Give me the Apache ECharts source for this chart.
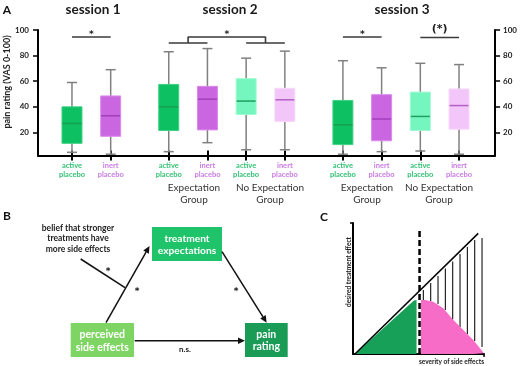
<!DOCTYPE html>
<html><head><meta charset="utf-8">
<script src="https://cdn.jsdelivr.net/npm/echarts@6/dist/echarts.min.js"></script>
<style>html,body{margin:0;padding:0;background:#fff}#c{width:520px;height:366px}</style>
</head><body><div id="c"></div>
<script>
// ---------- Panel A data ----------
const categories = ['active\nplacebo','','inert\nplacebo','','','active\nplacebo','','inert\nplacebo','','active\nplacebo','','inert\nplacebo','','','active\nplacebo','','inert\nplacebo','','active\nplacebo','','inert\nplacebo'];
const boxPositions = [0,2,5,7,9,11,14,16,18,20];
const boxTypes = [0,1,0,1,2,3,0,1,2,3];
// [min, q1, median, q3, max]
const s1Active = [4.5, 11.5, 27, 40, 59];
const s1Inert = [3, 17, 33, 48.5, 69];
const s2ExpActive = [5, 21.5, 40, 57.5, 83];
const s2ExpInert = [12, 22, 46, 56, 85.5];
const s2NoExpActive = [6.5, 34, 44.5, 62, 78];
const s2NoExpInert = [6.5, 28.5, 45.5, 54.5, 83.5];
const s3ExpActive = [3, 10.5, 26, 45, 76];
const s3ExpInert = [5, 13.5, 30.5, 49.5, 70.5];
const s3NoExpActive = [5.5, 21.5, 32.5, 51.5, 74];
const s3NoExpInert = [3, 22.5, 41, 54, 73];
const boxStats = [s1Active, s1Inert, s2ExpActive, s2ExpInert, s2NoExpActive, s2NoExpInert, s3ExpActive, s3ExpInert, s3NoExpActive, s3NoExpInert];
const yTicks = [20, 40, 60, 80, 100];
const sessionTitles = ['session 1', 'session 2', 'session 3'];
const groupLabels = ['Expectation\nGroup', 'No Expectation\nGroup', 'Expectation\nGroup', 'No Expectation\nGroup'];
// significance: [fromIndex, toIndex, level]
const sigBars = [[0, 2, 94.5], [5, 7, 89.8], [9, 11, 89.8], [14, 16, 94.5], [18, 20, 94.2]];
const sigBracketX = [6, 6, 10, 10];
const sigBracketY = [89.8, 94.5, 94.5, 89.8];
const sigMarkX = [1, 8, 15, 19];
const sigMarkY = [96.3, 96.3, 96.3, 100.5];
const sigMarkText = ['*', '*', '*', '(*)'];

// ---------- Panel C data ----------
const diagX = [1.5, 95.6], diagY = [0, 92.1];
const placeboX = [1.5, 46.5, 48.5, 48.5], placeboY = [0, 40.8, 41.2, 0];
const noceboX = [51.9, 51.9, 55, 61.3, 68.9, 76.6, 84.2, 91.8, 100];
const noceboY = [0, 41.2, 41.2, 39.9, 34.9, 26, 18.3, 10.7, 0.5];
const hatchX = [53.7, 59.3, 64.9, 70.5, 76.1, 81.7, 87.3, 92.9, 98.5];
const hatchTop = [48.9, 54.2, 59.5, 65.3, 70.6, 76.3, 81.7, 87, 88.5];
const hatchBottom = [41, 40.5, 38.2, 33.6, 26.3, 20.6, 15.3, 9.9, 5.3];
const thresholdX = [50.8, 50.8], thresholdY = [0, 94.7];

// ---------- styles ----------
const FONT = 'Lato';
const STAR_FONT = 'DejaVu Sans';
const boxFill = ['#0dc062', '#cb66e1', '#74f6be', '#f3c6f9'];
const boxStroke = ['#3fd184', '#d98aeb', '#9ff9d3', '#f7dafb'];
const medColor = ['#17a04f', '#a03fbb', '#1f9f5f', '#b460c7'];
const labelColor = {'active\nplacebo': '#33c174', 'inert\nplacebo': '#c97be2'};

const catData = categories.map(c => ({value: c, textStyle: {color: labelColor[c] || '#000'}}));
const tickFn = (i, v) => v !== '';
const boxData = boxPositions.map((p, i) => [p].concat(boxStats[i]).concat([boxTypes[i]]));
const zip = (a, b) => a.map((v, i) => [v, b[i]]);

const yAxisBase = {
  type: 'value', min: 2, max: 100, gridIndex: 0,
  axisLine: {show: true, lineStyle: {color: '#000', width: 2}},
  axisTick: {show: true, length: 5, customValues: yTicks, lineStyle: {color: '#000', width: 1.5}},
  axisLabel: {customValues: yTicks, fontSize: 8, fontWeight: 'bold', color: '#222', fontFamily: FONT},
  splitLine: {show: false}
};

function arrow(x1, y1, x2, y2, head) {
  const a = Math.atan2(y2 - y1, x2 - x1);
  const L = 7, W = 3.2;
  const ex = head ? x2 - L * Math.cos(a) : x2, ey = head ? y2 - L * Math.sin(a) : y2;
  const els = [{type: 'line', shape: {x1: x1, y1: y1, x2: ex, y2: ey}, style: {stroke: '#111', lineWidth: 1.5}}];
  if (head) {
    els.push({type: 'polygon', shape: {points: [[x2, y2],
      [ex + W * Math.sin(a), ey - W * Math.cos(a)],
      [ex - W * Math.sin(a), ey + W * Math.cos(a)]]}, style: {fill: '#111'}});
  }
  return els;
}
function txt(x, y, text, size, weight, color, opts) {
  return Object.assign({type: 'text', x: x, y: y, style: Object.assign({text: text, fontSize: size, fontWeight: weight, fill: color, fontFamily: FONT, textAlign: 'center', textVerticalAlign: 'middle'}, (opts && opts.style) || {})}, (opts && opts.el) || {});
}

const graphic = [
  txt(7, 10, 'A', 12, 'bold', '#111'),
  txt(7, 216, 'B', 12, 'bold', '#111'),
  txt(324, 217, 'C', 12, 'bold', '#111'),
  txt(93, 10, sessionTitles[0], 13.5, 'bold', '#1a1a1a'),
  txt(230, 10, sessionTitles[1], 13.5, 'bold', '#1a1a1a'),
  txt(402, 10, sessionTitles[2], 13.5, 'bold', '#1a1a1a'),
  txt(194, 194, groupLabels[0], 10, 'normal', '#333', {style: {lineHeight: 11.5}}),
  txt(270, 194, groupLabels[1], 10, 'normal', '#333', {style: {lineHeight: 11.5}}),
  txt(367, 194, groupLabels[2], 10, 'normal', '#333', {style: {lineHeight: 11.5}}),
  txt(439, 194, groupLabels[3], 10, 'normal', '#333', {style: {lineHeight: 11.5}}),
  txt(7, 82, 'pain rating (VAS 0-100)', 9, 'bold', '#222', {el: {rotation: Math.PI / 2}}),
  // Panel B
  txt(78, 238.5, 'belief that stronger\ntreatments have\nmore side effects', 8.5, 'bold', '#222', {style: {lineHeight: 10.7}}),
  {type: 'rect', shape: {x: 152, y: 227, width: 70, height: 34}, style: {fill: '#1fc46a'}},
  {type: 'rect', shape: {x: 70.7, y: 323, width: 63.3, height: 34}, style: {fill: '#7fd563'}},
  {type: 'rect', shape: {x: 245, y: 323, width: 42.7, height: 34}, style: {fill: '#1a9c56'}},
  txt(187, 244.7, 'treatment\nexpectations', 10.2, 'bold', '#fff', {style: {lineHeight: 12.7}}),
  txt(102.3, 341.2, 'perceived\nside effects', 10.5, 'bold', '#fff', {style: {lineHeight: 12.7}}),
  txt(266.3, 340.5, 'pain\nrating', 10.5, 'bold', '#fff', {style: {lineHeight: 12.7}}),
  ...arrow(106, 322.7, 149.5, 246, true),
  ...arrow(80.7, 259, 125, 287.7, false),
  ...arrow(222, 251.7, 266.7, 322.7, true),
  ...arrow(134.7, 340.7, 245, 340.7, true),
  txt(108, 272, '*', 9, 'bold', '#111', {style: {fontFamily: STAR_FONT}}),
  txt(137, 291.5, '*', 9, 'bold', '#111', {style: {fontFamily: STAR_FONT}}),
  txt(236, 291.5, '*', 9, 'bold', '#111', {style: {fontFamily: STAR_FONT}}),
  txt(185, 349, 'n.s.', 8, 'bold', '#222'),
  // Panel C texts
  txt(397, 331, 'placebo\neffect', 8.5, 'bold', '#fff', {style: {lineHeight: 12.5}}),
  txt(449, 331, 'nocebo\neffect', 8.5, 'bold', '#fff', {style: {lineHeight: 12.5}}),
  txt(349, 272, 'desired treatment effect', 6.5, 'bold', '#222', {el: {rotation: Math.PI / 2}}),
  txt(451.5, 362, 'severity of side effects', 6.5, 'bold', '#222')
];

const option = {
  animation: false,
  backgroundColor: '#fff',
  textStyle: {fontFamily: FONT},
  grid: [
    {left: 38, right: 22, top: 30, height: 125.5},
    {left: 62.3, width: 406.4, top: 30, height: 125.5},
    {left: 353, top: 223, width: 131, height: 131}
  ],
  xAxis: [
    {gridIndex: 0, type: 'category', data: [''], axisLine: {lineStyle: {color: '#000', width: 2}}, axisTick: {show: false}, axisLabel: {show: false}},
    {gridIndex: 1, type: 'category', data: catData, position: 'bottom',
      axisLine: {show: false},
      axisTick: {show: true, alignWithLabel: true, interval: tickFn, length: 5, lineStyle: {color: '#000', width: 2}},
      axisLabel: {interval: 0, margin: 6, fontSize: 7.5, fontWeight: 'bold', lineHeight: 9, fontFamily: FONT}},
    {gridIndex: 1, type: 'category', data: categories, position: 'bottom',
      axisLine: {show: false},
      axisTick: {show: true, inside: true, alignWithLabel: true, interval: tickFn, length: 5, lineStyle: {color: '#000', width: 2}},
      axisLabel: {show: false}},
    {gridIndex: 2, type: 'value', min: 0, max: 100,
      axisLine: {show: true, lineStyle: {color: '#000', width: 2}},
      axisTick: {show: true, customValues: [100], length: 3, lineStyle: {color: '#000', width: 1.5}},
      axisLabel: {show: false}, splitLine: {show: false}}
  ],
  yAxis: [
    Object.assign({}, yAxisBase, {position: 'left', axisLabel: Object.assign({}, yAxisBase.axisLabel, {margin: 9})}),
    Object.assign({}, yAxisBase, {position: 'right', axisLabel: Object.assign({}, yAxisBase.axisLabel, {margin: 8})}),
    {gridIndex: 1, type: 'value', min: 2, max: 100, show: false},
    {gridIndex: 2, type: 'value', min: 0, max: 100,
      axisLine: {show: true, lineStyle: {color: '#000', width: 2}},
      axisTick: {show: true, customValues: [100], length: 3, lineStyle: {color: '#000', width: 1.5}},
      axisLabel: {show: false}, splitLine: {show: false}}
  ],
  graphic: graphic,
  series: [
    {
      type: 'custom', xAxisIndex: 1, yAxisIndex: 2, data: boxData,
      encode: {x: 0, y: [1, 2, 3, 4, 5]},
      renderItem: function (params, api) {
        const x = api.value(0);
        const lo = api.coord([x, api.value(1)]);
        const q1 = api.coord([x, api.value(2)]);
        const md = api.coord([x, api.value(3)]);
        const q3 = api.coord([x, api.value(4)]);
        const hi = api.coord([x, api.value(5)]);
        const t = api.value(6);
        const bw = 20, cw = 10, cx = lo[0];
        const ws = {stroke: '#808080', lineWidth: 1.5};
        return {type: 'group', children: [
          {type: 'line', shape: {x1: cx, y1: hi[1], x2: cx, y2: lo[1]}, style: ws},
          {type: 'line', shape: {x1: cx - cw / 2, y1: hi[1], x2: cx + cw / 2, y2: hi[1]}, style: ws},
          {type: 'line', shape: {x1: cx - cw / 2, y1: lo[1], x2: cx + cw / 2, y2: lo[1]}, style: ws},
          {type: 'rect', shape: {x: cx - bw / 2, y: q3[1], width: bw, height: q1[1] - q3[1]}, style: {fill: boxFill[t], stroke: boxStroke[t], lineWidth: 1}},
          {type: 'line', shape: {x1: cx - bw / 2 + 0.5, y1: md[1], x2: cx + bw / 2 - 0.5, y2: md[1]}, style: {stroke: medColor[t], lineWidth: 1.5}}
        ]};
      }
    },
    {
      type: 'custom', xAxisIndex: 1, yAxisIndex: 2, data: sigBars,
      renderItem: function (params, api) {
        const a = api.coord([api.value(0), api.value(2)]);
        const b = api.coord([api.value(1), api.value(2)]);
        return {type: 'line', shape: {x1: a[0], y1: a[1], x2: b[0], y2: b[1]}, style: {stroke: '#3a3a3a', lineWidth: 1.6}};
      }
    },
    {
      type: 'line', xAxisIndex: 1, yAxisIndex: 2, data: zip(sigBracketX, sigBracketY),
      symbol: 'none', lineStyle: {color: '#3a3a3a', width: 1.6}, silent: true
    },
    {
      type: 'custom', xAxisIndex: 1, yAxisIndex: 2, data: sigMarkX.map((x, i) => [x, sigMarkY[i], i]),
      renderItem: function (params, api) {
        const p = api.coord([api.value(0), api.value(1)]);
        const s = sigMarkText[api.value(2)];
        return {type: 'text', x: p[0], y: p[1], style: {text: s, fontSize: s === '*' ? 9 : 11, fontWeight: 'bold', fill: '#222', fontFamily: STAR_FONT, textAlign: 'center', textVerticalAlign: 'middle'}};
      }
    },
    {
      type: 'line', xAxisIndex: 3, yAxisIndex: 3, data: zip(placeboX, placeboY), symbol: 'none',
      lineStyle: {width: 0}, areaStyle: {color: '#17a057', opacity: 1}, silent: true
    },
    {
      type: 'line', xAxisIndex: 3, yAxisIndex: 3, data: zip(noceboX, noceboY), symbol: 'none',
      lineStyle: {width: 0}, areaStyle: {color: '#f76cc6', opacity: 1}, silent: true
    },
    {
      type: 'custom', xAxisIndex: 3, yAxisIndex: 3, data: hatchX.map((x, i) => [x, hatchBottom[i], hatchTop[i]]),
      renderItem: function (params, api) {
        const a = api.coord([api.value(0), api.value(1)]);
        const b = api.coord([api.value(0), api.value(2)]);
        return {type: 'line', shape: {x1: a[0], y1: a[1], x2: b[0], y2: b[1]}, style: {stroke: '#111', lineWidth: 1.1}};
      }
    },
    {
      type: 'line', xAxisIndex: 3, yAxisIndex: 3, data: zip(diagX, diagY), symbol: 'none',
      lineStyle: {color: '#000', width: 1.5}, silent: true
    },
    {
      type: 'line', xAxisIndex: 3, yAxisIndex: 3, data: zip(thresholdX, thresholdY), symbol: 'none',
      lineStyle: {color: '#000', width: 2.5, type: [6, 3]}, silent: true
    }
  ]
};
const chart = echarts.init(document.getElementById('c'), null, {renderer: 'canvas'});
chart.setOption(option);
</script>
</body></html>
